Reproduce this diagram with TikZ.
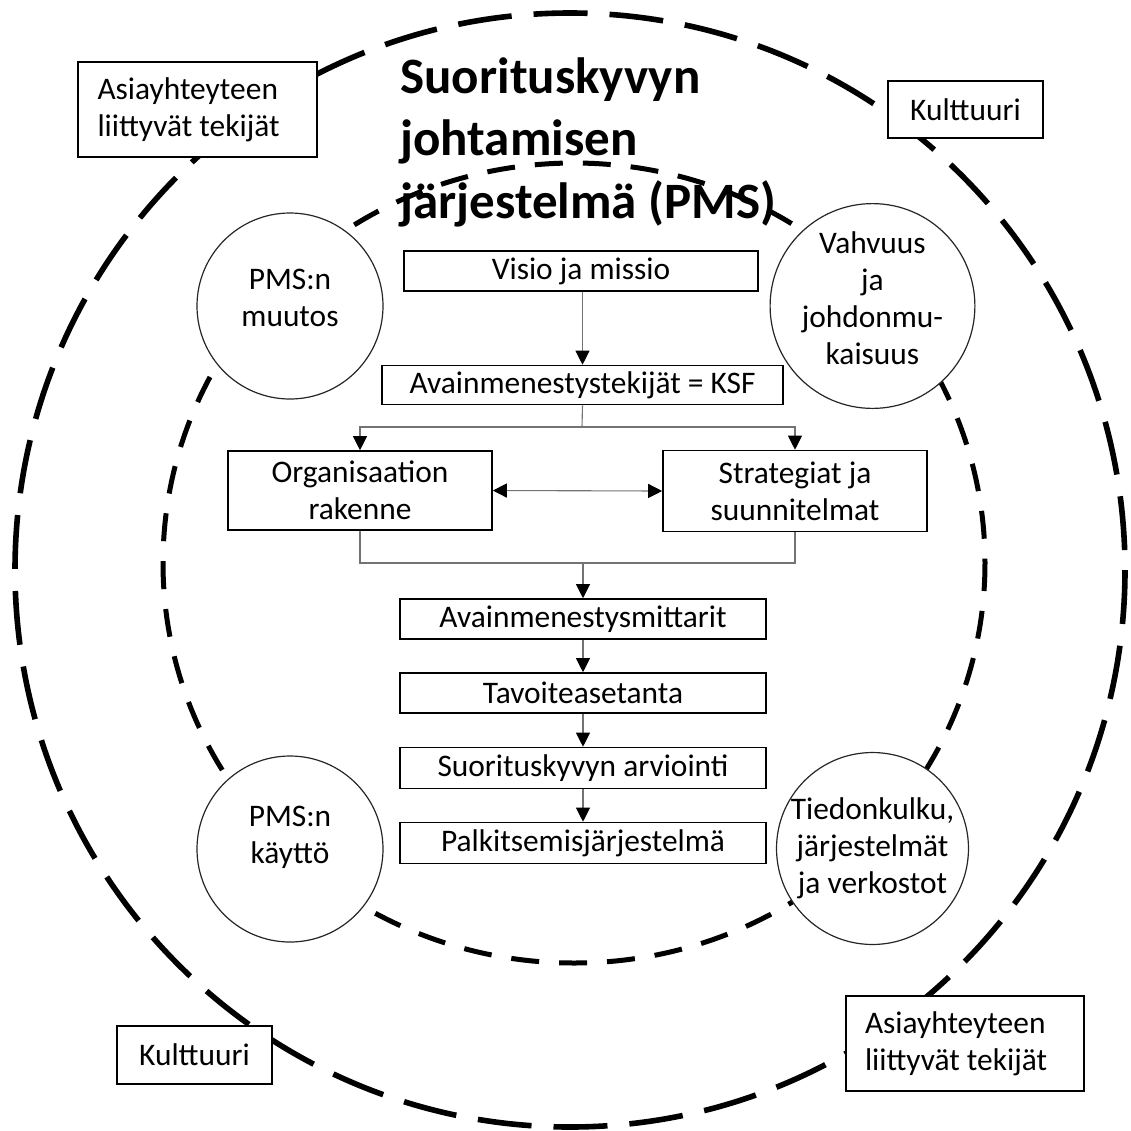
\documentclass[tikz,border=0pt]{standalone}
\usepackage{fontspec}
\setmainfont{Carlito}
\usetikzlibrary{arrows.meta}
\begin{document}
\begin{tikzpicture}[x=0.5pt,y=-0.5pt,
  txt/.style={font=\fontsize{15.7}{18.5}\selectfont, align=center, inner sep=0pt},
  box/.style={txt, draw=black, line width=0.8pt, fill=white},
  cornerbox/.style={box, align=flush left},
  circ/.style={txt, circle, draw=black!85, line width=0.6pt, fill=white, minimum size=93pt},
  titletxt/.style={font=\fontsize{25.5}{31}\selectfont\bfseries, anchor=base west, inner sep=0pt},
  conn/.style={draw=black!55, line width=0.55pt},
  arr/.style={conn, -{Triangle[width=7pt,length=7pt,color=black]}},
  arrtwo/.style={conn, {Triangle[width=7pt,length=7pt,color=black]}-{Triangle[width=7pt,length=7pt,color=black]}},
  outerdash/.style={line width=2.8pt, dash pattern=on 27pt off 11pt},
  innerdash/.style={line width=2.5pt, dash pattern=on 14pt off 10pt}
]
\useasboundingbox (0,0) rectangle (1131,1131);
% dashed circles
\draw[outerdash] (570,570) ellipse [x radius=555, y radius=557];
\draw[innerdash] (574,563) ellipse [x radius=411, y radius=400];

% title
\node[titletxt] (t1) at (400,93) {Suorituskyvyn};
\node[titletxt] (t2) at (400,155) {johtamisen};
\node[titletxt] (t3) at (400,218) {järjestelmä (PMS)};

% corner boxes
\node[cornerbox, minimum width=119.5pt, minimum height=47.5pt, text width=100pt] (ast1) at (197.5,109.5) {Asiayhteyteen\\liittyvät tekijät};
\node[box, minimum width=77.5pt, minimum height=28.5pt] (kul1) at (965.5,109.5) {Kulttuuri};
\node[box, minimum width=77.5pt, minimum height=29pt] (kul2) at (194.5,1055) {Kulttuuri};
\node[cornerbox, minimum width=119pt, minimum height=47.5pt, text width=100pt] (ast2) at (965,1043.5) {Asiayhteyteen\\liittyvät tekijät};

% circles
\node[circ] (c1) at (290,306) {PMS:n\\muutos\rule[-8.5pt]{0pt}{0pt}};
\node[circ] (c2) at (872.5,306) {Vahvuus\\ja\\johdonmu-\\kaisuus\rule[-8pt]{0pt}{0pt}};
\node[circ] (c3) at (290,849) {PMS:n\\käyttö\rule[-14pt]{0pt}{0pt}};
\node[circ] (c4) at (872.5,848.5) {Tiedonkulku,\\järjestelmät\\ja verkostot};

% flow boxes
\node[box, minimum width=177pt, minimum height=20pt] (visio) at (581,271) {Visio ja missio};
\node[box, minimum width=200.5pt, minimum height=19.5pt] (ksf) at (582.5,385) {Avainmenestystekijät = KSF};
\node[box, minimum width=132pt, minimum height=39.5pt] (org) at (360,490.5) {Organisaation\\rakenne};
\node[box, minimum width=132pt, minimum height=40.5pt] (strat) at (795,491) {Strategiat ja\\suunnitelmat};
\node[box, minimum width=183pt, minimum height=20pt] (akm) at (583,619) {Avainmenestysmittarit};
\node[box, minimum width=183pt, minimum height=20pt] (tav) at (583,693) {Tavoiteasetanta};
\node[box, minimum width=183pt, minimum height=20.5pt] (arv) at (583,768) {Suorituskyvyn arviointi};
\node[box, minimum width=183pt, minimum height=20.5pt] (palk) at (583,843) {Palkitsemisjärjestelmä};

% connectors
\coordinate (j1) at (582,427);
\coordinate (j2) at (583,563);
\draw[arr] (visio.south -| ksf.north) -- (ksf.north);
\draw[conn] (ksf.south) -- (j1);
\draw[arr] (j1) -| (org.north);
\draw[arr] (j1) -| (strat.north);
\draw[arrtwo] (org.east) -- (strat.west);
\draw[conn] (org.south) |- (j2);
\draw[conn] (strat.south) |- (j2);
\draw[arr] (j2) -- (akm.north);
\draw[arr] (akm) -- (tav);
\draw[arr] (tav) -- (arv);
\draw[arr] (arv) -- (palk);
\end{tikzpicture}
\end{document}
